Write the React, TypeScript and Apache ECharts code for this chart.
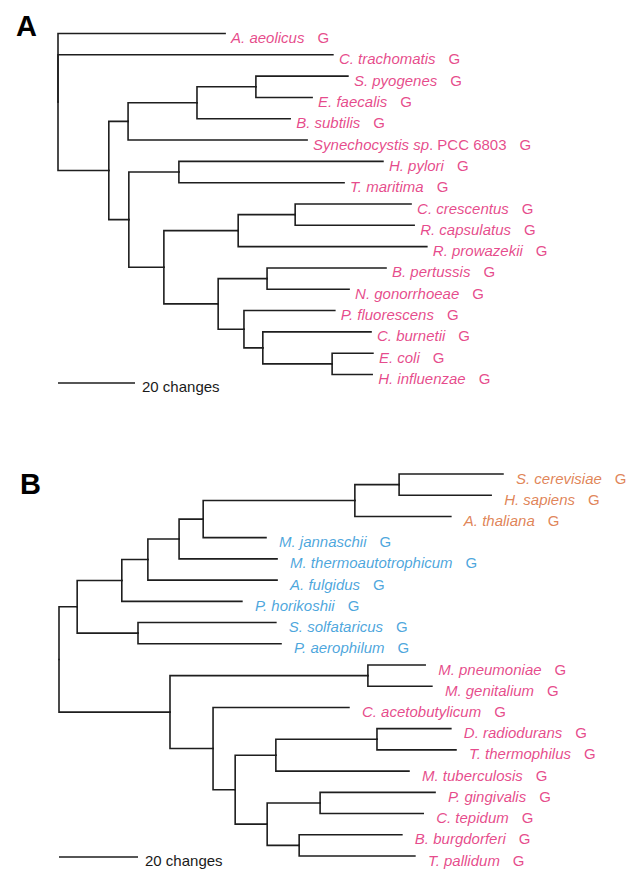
import React, { useEffect, useRef } from "react";
import * as echarts from "echarts";

// Tree A: [node, parent, branch length in changes] — children listed in leaf order
const treeANodes: Array<[string, string, number]> = [
  ["A. aeolicus", "r", 43.4],
  ["C. trachomatis", "r", 71.4],
  ["X", "r", 13.2],
  ["U", "X", 5.0],
  ["U1", "U", 17.9],
  ["U2", "U1", 15.3],
  ["S. pyogenes", "U2", 23.9],
  ["E. faecalis", "U2", 14.6],
  ["B. subtilis", "U1", 24.2],
  ["Synechocystis sp. PCC 6803", "U", 46.5],
  ["L", "X", 5.2],
  ["L1", "L", 13.0],
  ["H. pylori", "L1", 53.0],
  ["T. maritima", "L1", 42.9],
  ["L2", "L", 9.1],
  ["L2a", "L2", 19.3],
  ["L2a1", "L2a", 14.8],
  ["C. crescentus", "L2a1", 30.1],
  ["R. capsulatus", "L2a1", 30.9],
  ["R. prowazekii", "L2a", 49.0],
  ["L2b", "L2", 14.1],
  ["L2b1", "L2b", 12.7],
  ["B. pertussis", "L2b1", 30.9],
  ["N. gonorrhoeae", "L2b1", 21.3],
  ["L2b2", "L2b", 6.7],
  ["P. fluorescens", "L2b2", 23.6],
  ["L2b3", "L2b2", 4.9],
  ["C. burnetii", "L2b3", 28.1],
  ["L2b4", "L2b3", 18.0],
  ["E. coli", "L2b4", 10.6],
  ["H. influenzae", "L2b4", 10.4],
];

// Tree B
const treeBNodes: Array<[string, string, number]> = [
  ["Arch", "r", 4.6],
  ["B1", "Arch", 11.3],
  ["B2", "B1", 6.6],
  ["B3", "B2", 7.9],
  ["B4", "B3", 6.1],
  ["Euk", "B4", 38.4],
  ["Euk1", "Euk", 11.2],
  ["S. cerevisiae", "Euk1", 26.3],
  ["H. sapiens", "Euk1", 23.3],
  ["A. thaliana", "Euk", 24.3],
  ["M. jannaschii", "B4", 15.9],
  ["M. thermoautotrophicum", "B3", 24.8],
  ["A. fulgidus", "B2", 32.7],
  ["P. horikoshii", "B1", 30.4],
  ["Cren", "Arch", 15.4],
  ["S. solfataricus", "Cren", 34.9],
  ["P. aerophilum", "Cren", 36.2],
  ["Bact", "r", 28.1],
  ["Myco", "Bact", 50.1],
  ["M. pneumoniae", "Myco", 14.5],
  ["M. genitalium", "Myco", 16.2],
  ["Bc1", "Bact", 10.9],
  ["C. acetobutylicum", "Bc1", 34.4],
  ["Bc2", "Bc1", 5.6],
  ["Bc3", "Bc2", 10.3],
  ["DT", "Bc3", 25.6],
  ["D. radiodurans", "DT", 18.7],
  ["T. thermophilus", "DT", 20.0],
  ["M. tuberculosis", "Bc3", 33.7],
  ["Bc4", "Bc2", 8.1],
  ["PC", "Bc4", 13.4],
  ["P. gingivalis", "PC", 29.1],
  ["C. tepidum", "PC", 26.1],
  ["Spiro", "Bc4", 8.1],
  ["B. burgdorferi", "Spiro", 26.0],
  ["T. pallidum", "Spiro", 29.3],
];

const eukaryotes = ["S. cerevisiae", "H. sapiens", "A. thaliana"];
const archaea = [
  "M. jannaschii",
  "M. thermoautotrophicum",
  "A. fulgidus",
  "P. horikoshii",
  "S. solfataricus",
  "P. aerophilum",
];

const scaleBarChanges = [0, 20];
const scaleBarLabel = "20 changes";
const panelLabels = ["A", "B"];

const FONT = "'Liberation Sans', Arial, Helvetica, sans-serif";
const LINE = "#1e1e1e";
const COLORS: Record<string, string> = { m: "#e0196e", b: "#1b8fd4", o: "#d8652c" };

function layout(nodes: Array<[string, string, number]>) {
  const children: Record<string, string[]> = {};
  const len: Record<string, number> = {};
  nodes.forEach(([id, p, l]) => {
    (children[p] = children[p] || []).push(id);
    len[id] = l;
  });
  const x: Record<string, number> = { r: 0 };
  const y: Record<string, number> = {};
  let leafIdx = 0;
  const visit = (id: string) => {
    const ch = children[id];
    if (!ch) {
      y[id] = leafIdx++;
      return;
    }
    ch.forEach((c) => {
      x[c] = x[id] + len[c];
      visit(c);
    });
    y[id] = (y[ch[0]] + y[ch[ch.length - 1]]) / 2;
  };
  visit("r");
  const branches = nodes.map(([id, p]) => ({
    coords: [
      [x[p], y[p]],
      [x[p], y[id]],
      [x[id], y[id]],
    ],
  }));
  const leaves = nodes
    .filter(([id]) => !children[id])
    .map(([id]) => ({ id, x: x[id], y: y[id] }));
  return { branches, leaves, nLeaves: leafIdx };
}

function richFor() {
  const rich: Record<string, any> = {};
  Object.keys(COLORS).forEach((k) => {
    const c = COLORS[k];
    rich["i" + k] = { fontStyle: "italic", color: c, fontSize: 15, fontFamily: FONT };
    rich["n" + k] = { color: c, fontSize: 15, fontFamily: FONT };
    rich["g" + k] = { color: c, fontSize: 15, fontFamily: FONT, padding: [0, 0, 0, 13] };
  });
  return rich;
}

function App() {
  const ref = useRef<HTMLDivElement>(null);
  useEffect(() => {
    document.body.style.margin = "0";
    const chart = echarts.init(ref.current!, null, { renderer: "svg" });
    const A = layout(treeANodes);
    const B = layout(treeBNodes);
    const groupOfB = (id: string) =>
      eukaryotes.includes(id) ? "o" : archaea.includes(id) ? "b" : "m";

    const labelFormatter = (p: any) => {
      const g = p.data.group;
      const name: string = p.name;
      const m = name.match(/^(.*?)(\. PCC.*)$/);
      if (m) return `{i${g}|${m[1]}}{n${g}|${m[2]}}{g${g}|G}`;
      return `{i${g}|${name}}{g${g}|G}`;
    };

    const treeSeries = (
      t: ReturnType<typeof layout>,
      idx: number,
      grp: (id: string) => string,
      barY: number,
      labelGap: number
    ) => [
      {
        type: "lines",
        coordinateSystem: "cartesian2d",
        xAxisIndex: idx,
        yAxisIndex: idx,
        polyline: true,
        silent: true,
        clip: false,
        lineStyle: { color: LINE, width: 1.6, opacity: 1, cap: "square", join: "miter" },
        data: t.branches,
      },
      {
        type: "scatter",
        xAxisIndex: idx,
        yAxisIndex: idx,
        symbolSize: 0,
        clip: false,
        silent: true,
        label: {
          show: true,
          position: "right",
          distance: labelGap,
          offset: [0, 4],
          formatter: labelFormatter,
          rich: richFor(),
        },
        data: t.leaves.map((l) => ({ name: l.id, value: [l.x, l.y], group: grp(l.id) })),
      },
      {
        type: "lines",
        coordinateSystem: "cartesian2d",
        xAxisIndex: idx,
        yAxisIndex: idx,
        silent: true,
        clip: false,
        lineStyle: { color: LINE, width: 1.6, opacity: 1 },
        label: {
          show: true,
          position: "end",
          distance: 7,
          formatter: scaleBarLabel,
          color: "#1a1a1a",
          fontSize: 15,
          fontFamily: FONT,
          offset: [0, 3],
        },
        data: [
          {
            coords: [
              [scaleBarChanges[0], barY],
              [scaleBarChanges[1], barY],
            ],
          },
        ],
      },
    ];

    chart.setOption({
      animation: false,
      backgroundColor: "#ffffff",
      title: [
        {
          text: panelLabels[0],
          left: 11,
          top: 6,
          textStyle: { fontSize: 29, fontWeight: "bold", fontFamily: FONT, color: "#000" },
        },
        {
          text: panelLabels[1],
          left: 15,
          top: 464,
          textStyle: { fontSize: 29, fontWeight: "bold", fontFamily: FONT, color: "#000" },
        },
      ],
      grid: [
        { left: 58, top: 33.5, width: 462, height: 341, containLabel: false },
        { left: 59, top: 474, width: 474, height: 382, containLabel: false },
      ],
      xAxis: [
        { type: "value", gridIndex: 0, min: 0, max: 120, show: false },
        { type: "value", gridIndex: 1, min: 0, max: 120, show: false },
      ],
      yAxis: [
        { type: "value", gridIndex: 0, min: 0, max: A.nLeaves - 1, inverse: true, show: false },
        { type: "value", gridIndex: 1, min: 0, max: B.nLeaves - 1, inverse: true, show: false },
      ],
      series: [
        ...treeSeries(A, 0, () => "m", 16.4, 6),
        ...treeSeries(B, 1, groupOfB, 18.05, 13),
      ],
    });
    return () => chart.dispose();
  }, []);
  return <div ref={ref} style={{ width: 635, height: 882 }} />;
}

export default App;
